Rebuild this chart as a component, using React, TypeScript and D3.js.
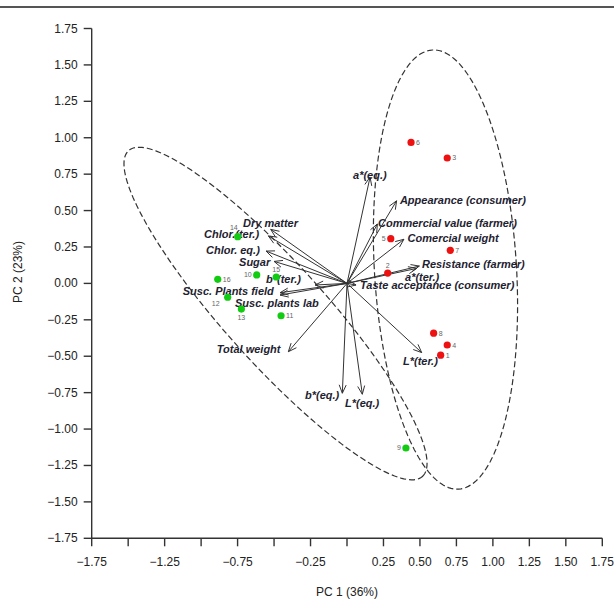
import React from 'react';
import * as d3 from 'd3';

const W = 614;
const H = 600;
const MARGIN = { top: 28.5, right: 11.7, bottom: 61.7, left: 91.7 };
const FONT = '"Liberation Sans", Arial, sans-serif';

// axis ticks
const TICKS = [-1.75, -1.5, -1.25, -1, -0.75, -0.5, -0.25, 0, 0.25, 0.5, 0.75, 1, 1.25, 1.5, 1.75];
const X_LABELS = [-1.75, -1.25, -0.75, -0.25, 0.25, 0.5, 0.75, 1, 1.25, 1.5, 1.75];

// sample scores
const sampleIds = ['1', '2', '3', '4', '5', '6', '7', '8', '9', '10', '11', '12', '13', '14', '15', '16'];
const samplePC1 = [0.642, 0.279, 0.687, 0.687, 0.300, 0.439, 0.708, 0.594, 0.404, -0.619, -0.452, -0.818, -0.724, -0.749, -0.485, -0.886];
const samplePC2 = [-0.493, 0.071, 0.861, -0.423, 0.307, 0.968, 0.227, -0.342, -1.130, 0.058, -0.222, -0.095, -0.176, 0.321, 0.044, 0.028];
const sampleGroup = ['r', 'r', 'r', 'r', 'r', 'r', 'r', 'r', 'g', 'g', 'g', 'g', 'g', 'g', 'g', 'g'];

// variable loadings
const varNames = [
  'Dry matter', 'Chlor.(ter.)', 'Chlor. eq.)', 'Sugar', 'b*(ter.)', 'Susc. Plants field',
  'Susc. plants lab', 'Total weight', 'b*(eq.)', 'L*(eq.)', 'L*(ter.)', 'Taste acceptance (consumer)',
  'a*(ter.)', 'Resistance (farmer)', 'Comercial weight', 'Commercial value (farmer)',
  'Appearance (consumer)', 'a*(eq.)'
];
const varPC1 = [-0.523, -0.539, -0.555, -0.500, -0.219, -0.459, -0.459, -0.402, -0.032, 0.105, 0.512, 0.062, 0.478, 0.496, 0.390, 0.208, 0.340, 0.158];
const varPC2 = [0.371, 0.326, 0.222, 0.151, -0.011, -0.064, -0.080, -0.469, -0.754, -0.761, -0.475, -0.011, 0.103, 0.119, 0.303, 0.408, 0.567, 0.730];

// label offsets from the arrow tip, px
const varLabelOffset: [number, number][] = [
  [-27.7, -2.6], [-64.3, 2], [-60, 3], [-35, 4.7], [-49, -2.3], [-97.3, 2.3],
  [-45, 12], [-71.6, 1.3], [-37.3, 5.7], [-17.3, 12.4], [-18.7, 12.3], [4, 4],
  [-11.7, 12.4], [2.7, 2], [3.7, 2.7], [0.7, 3], [3.3, 3.3], [-17, 2]
];
// sample number label placement
const sampleLabelPos = ['r', 'a', 'r', 'r', 'l', 'r', 'r', 'r', 'l', 'l', 'r', 'bl', 'b', 'al', 'a', 'r'];

// group ellipses: center, semi-axes, rotation (deg)
const ellipseCX = [-0.49, 0.675];
const ellipseCY = [-0.207, 0.095];
const ellipseRX = [1.505, 0.487];
const ellipseRY = [0.343, 1.51];
const ellipseAngle = [-48, 3.4];

export default function App() {
  const x = d3.scaleLinear().domain([-1.75, 1.75]).range([MARGIN.left, W - MARGIN.right]);
  const y = d3.scaleLinear().domain([-1.75, 1.75]).range([H - MARGIN.bottom, MARGIN.top]);
  const x0 = x(-1.75), x1 = x(1.75), y0 = y(-1.75), y1 = y(1.75);

  const line = d3.line<[number, number]>().x(d => x(d[0])).y(d => y(d[1])).curve(d3.curveLinearClosed);
  const ellipses = ellipseCX.map((cx, i) => {
    const th = ellipseAngle[i] * Math.PI / 180;
    const pts: [number, number][] = d3.range(0, 2 * Math.PI, Math.PI / 90).map(t => [
      cx + ellipseRX[i] * Math.cos(t) * Math.cos(th) - ellipseRY[i] * Math.sin(t) * Math.sin(th),
      ellipseCY[i] + ellipseRX[i] * Math.cos(t) * Math.sin(th) + ellipseRY[i] * Math.sin(t) * Math.cos(th)
    ]);
    return <path key={i} d={line(pts) || ''} fill="none" stroke="#333" strokeWidth={1.2} strokeDasharray="6,3" />;
  });

  const ox = x(0), oy = y(0);
  const arrows = varNames.map((name, i) => {
    const tx = x(varPC1[i]), ty = y(varPC2[i]);
    const a = Math.atan2(ty - oy, tx - ox);
    const hl = 9, ha = 0.4;
    const head = `M${tx - hl * Math.cos(a - ha)},${ty - hl * Math.sin(a - ha)}L${tx},${ty}L${tx - hl * Math.cos(a + ha)},${ty - hl * Math.sin(a + ha)}`;
    const [dx, dy] = varLabelOffset[i];
    return (
      <g key={name}>
        <line x1={ox} y1={oy} x2={tx} y2={ty} stroke="#333" strokeWidth={1} />
        <path d={head} fill="none" stroke="#333" strokeWidth={1} />
        <text x={tx + dx} y={ty + dy} fontSize={11} fontWeight="bold" fontStyle="italic" fill="#1e2230">{name}</text>
      </g>
    );
  });

  const points = sampleIds.map((id, i) => {
    const px = x(samplePC1[i]), py = y(samplePC2[i]);
    const pos = sampleLabelPos[i];
    let lx = px + 5, ly = py + 2.5, anchor = 'start';
    if (pos === 'l') { lx = px - 5; anchor = 'end'; }
    if (pos === 'a') { lx = px; ly = py - 5; anchor = 'middle'; }
    if (pos === 'b') { lx = px; ly = py + 11; anchor = 'middle'; }
    if (pos === 'bl') { lx = px - 8; ly = py + 9; anchor = 'end'; }
    if (pos === 'al') { lx = px; ly = py - 7; anchor = 'end'; }
    return (
      <g key={id}>
        <circle cx={px} cy={py} r={3.6} fill={sampleGroup[i] === 'r' ? '#ee1111' : '#11cc11'} />
        <text x={lx} y={ly} fontSize={7} fill="#666" textAnchor={anchor}>{id}</text>
      </g>
    );
  });

  return (
    <svg width={W} height={H} style={{ position: 'absolute', left: 0, top: 0, fontFamily: FONT, background: '#fff' }}>
      <line x1={0} x2={W} y1={7} y2={7} stroke="#555" strokeWidth={2} />
      {ellipses}
      {arrows}
      {points}
      {/* axes */}
      <g stroke="#333" strokeWidth={1.4} fill="none">
        <path d={`M${x0},${y1}V${y0}H${x1}`} />
        {TICKS.map(t => <line key={'y' + t} x1={x0 - 8} x2={x0} y1={y(t)} y2={y(t)} />)}
        {TICKS.map(t => <line key={'x' + t} x1={x(t)} x2={x(t)} y1={y0} y2={y0 + 8} />)}
      </g>
      <g fontSize={12} fill="#222">
        {TICKS.map(t => <text key={'yl' + t} x={x0 - 14} y={y(t) + 4} textAnchor="end">{d3.format('.2f')(t)}</text>)}
        {X_LABELS.map(t => <text key={'xl' + t} x={x(t)} y={y0 + 28} textAnchor="middle">{d3.format('.2f')(t)}</text>)}
        <text x={(x0 + x1) / 2} y={596} textAnchor="middle">PC 1 (36%)</text>
        <text transform={`translate(22,${272}) rotate(-90)`} textAnchor="middle">PC 2 (23%)</text>
      </g>
    </svg>
  );
}
